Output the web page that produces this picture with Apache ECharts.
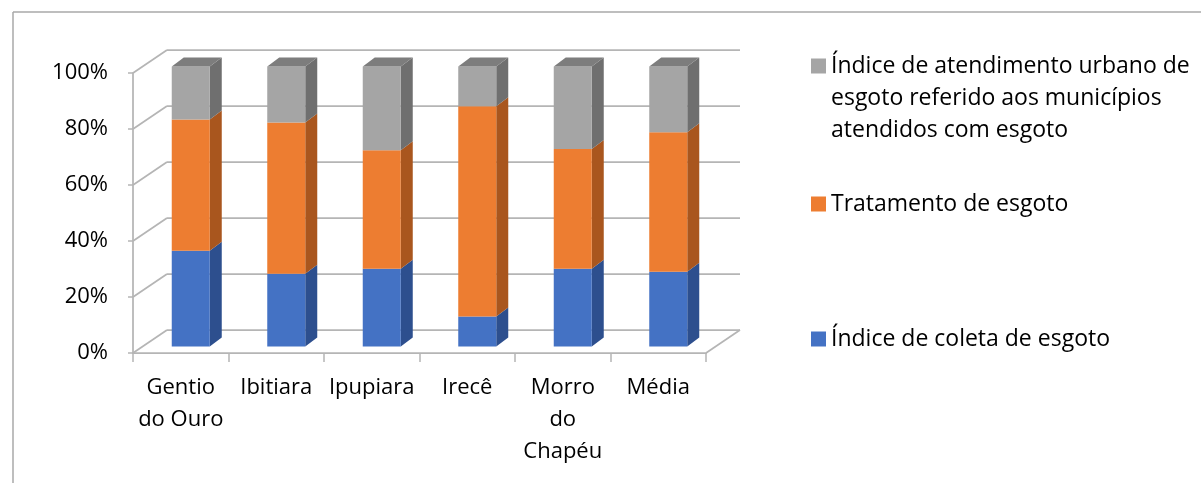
<!DOCTYPE html>
<html>
<head>
<meta charset="utf-8">
<script src="https://cdn.jsdelivr.net/npm/echarts@6/dist/echarts.min.js"></script>
<style>
  html, body { margin: 0; padding: 0; background: #fff; }
  #chart { width: 1201px; height: 483px; }
</style>
</head>
<body>
<div id="chart"></div>
<script>
// ---- data (shares of each bar, %) ----
const categories = ["Gentio\ndo Ouro", "Ibitiara", "Ipupiara", "Irecê", "Morro\ndo\nChapéu", "Média"];
const coleta     = [34.2, 26.0, 27.8, 10.7, 27.8, 26.7];
const tratamento = [46.9, 54.0, 42.3, 75.1, 42.7, 49.8];
const atendimento = [18.9, 20.0, 29.9, 14.2, 29.5, 23.5];
const yTicks = [0, 20, 40, 60, 80, 100];

const NAME_COLETA = "Índice de coleta de esgoto";
const NAME_TRAT = "Tratamento de esgoto";
const NAME_ATEND = "Índice de atendimento urbano de esgoto referido aos municípios atendidos com esgoto";

const FONT = "Open Sans";
const GRID_LINE = "#b5b5b5";

// pseudo-3D offsets
const WALL_DX = 34, WALL_DY = -23;   // depth of the chart box
const BAR_DX = 10, BAR_DY = -6.5;    // bar front face sits inside the box
const BAR_W = 38;
const SIDE_DX = 12, SIDE_DY = -9;    // bar depth

// stack the three segments
function stackRows(values, bases) {
  return values.map((v, i) => [i, bases[i], bases[i] + v]);
}
const base0 = coleta.map(() => 0);
const base1 = coleta.slice();
const base2 = coleta.map((v, i) => v + tratamento[i]);

function barRenderer(front, side, top, withTop) {
  return function (params, api) {
    const i = api.value(0);
    const p0 = api.coord([i, api.value(1)]);
    const p1 = api.coord([i, api.value(2)]);
    const xl = p0[0] + BAR_DX - BAR_W / 2;
    const xr = xl + BAR_W;
    const yb = p0[1] + BAR_DY;
    const yt = p1[1] + BAR_DY;
    const children = [
      {
        type: "polygon",
        shape: { points: [[xr, yt], [xr, yb], [xr + SIDE_DX, yb + SIDE_DY], [xr + SIDE_DX, yt + SIDE_DY]] },
        style: { fill: side }
      },
      {
        type: "rect",
        shape: { x: xl, y: yt, width: BAR_W, height: yb - yt },
        style: { fill: front }
      }
    ];
    if (withTop) {
      children.push({
        type: "polygon",
        shape: { points: [[xl, yt], [xr, yt], [xr + SIDE_DX, yt + SIDE_DY], [xl + SIDE_DX, yt + SIDE_DY]] },
        style: { fill: top }
      });
    }
    return { type: "group", children };
  };
}

function barSeries(name, rows, front, side, top, withTop) {
  return {
    name,
    type: "custom",
    xAxisIndex: 0,
    yAxisIndex: 0,
    itemStyle: { color: front },
    encode: { x: 0, y: [1, 2] },
    data: rows,
    z: 5,
    renderItem: barRenderer(front, side, top, withTop)
  };
}

const chart = echarts.init(document.getElementById("chart"), null, { renderer: "canvas" });

const legendText = { fontFamily: FONT, fontSize: 23, color: "#000", lineHeight: 32 };

chart.setOption({
  animation: false,
  textStyle: { fontFamily: FONT },
  grid: [
    { left: 133, top: 73, width: 573, height: 280 },                       // front plane
    { left: 133 + WALL_DX, top: 73 + WALL_DY, width: 573, height: 280 }    // back wall
  ],
  xAxis: [
    {
      type: "category",
      gridIndex: 0,
      data: categories,
      axisLine: { lineStyle: { color: GRID_LINE, width: 1.75 } },
      axisTick: { show: true, length: 9, lineStyle: { color: GRID_LINE, width: 1.5 } },
      axisLabel: { color: "#000", fontSize: 22, fontFamily: FONT, lineHeight: 32, margin: 19, interval: 0 },
      splitLine: { show: false }
    },
    { type: "category", gridIndex: 1, data: categories, show: false }
  ],
  yAxis: [
    {
      type: "value",
      gridIndex: 0,
      min: 0, max: 100, interval: 20,
      axisLine: { show: true, lineStyle: { color: GRID_LINE, width: 1.75 } },
      axisTick: { show: true, length: 5, lineStyle: { color: GRID_LINE, width: 1.5 } },
      axisLabel: { color: "#000", fontSize: 22, fontFamily: FONT, margin: 25, formatter: "{value}%" },
      splitLine: { show: false }
    },
    {
      type: "value",
      gridIndex: 1,
      min: 0, max: 100, interval: 20,
      axisLine: { show: false },
      axisTick: { show: false },
      axisLabel: { show: false },
      splitLine: { show: true, lineStyle: { color: GRID_LINE, width: 1.75 } }
    }
  ],
  legend: [
    {
      // two leading blank lines keep the marker beside the first text line
      data: [NAME_ATEND], left: 806, bottom: 332, orient: "vertical",
      icon: "rect", itemWidth: 15, itemHeight: 15,
      formatter: () => "\n\nÍndice de atendimento urbano de\nesgoto referido aos municípios\natendidos com esgoto",
      textStyle: legendText
    },
    {
      data: [NAME_TRAT], left: 806, top: 183,
      icon: "rect", itemWidth: 15, itemHeight: 15, textStyle: legendText
    },
    {
      data: [NAME_COLETA], left: 806, top: 318,
      icon: "rect", itemWidth: 15, itemHeight: 15, textStyle: legendText
    }
  ],
  graphic: [
    { type: "line", shape: { x1: 13, y1: 12, x2: 1201, y2: 12 }, style: { stroke: "#a8a8a8", lineWidth: 1.5 } },
    { type: "line", shape: { x1: 13, y1: 12, x2: 13, y2: 483 }, style: { stroke: "#a8a8a8", lineWidth: 1.5 } }
  ],
  series: [
    // side wall / floor edges joining the front plane to the back wall
    {
      type: "custom",
      xAxisIndex: 0,
      yAxisIndex: 0,
      silent: true,
      z: 1,
      data: yTicks.map((v) => [0, v]),
      encode: { x: 0, y: 1 },
      renderItem: function (params, api) {
        const cs = params.coordSys;
        const y = api.coord([0, api.value(1)])[1];
        const style = { stroke: GRID_LINE, lineWidth: 1.75 };
        const children = [
          { type: "line", shape: { x1: cs.x, y1: y, x2: cs.x + WALL_DX, y2: y + WALL_DY }, style }
        ];
        if (api.value(1) === 0) {
          const xr = cs.x + cs.width;
          children.push({ type: "line", shape: { x1: xr, y1: y, x2: xr + WALL_DX, y2: y + WALL_DY }, style });
        }
        return { type: "group", children };
      }
    },
    barSeries(NAME_COLETA, stackRows(coleta, base0), "#4472c4", "#2d4f8e", "#3a62a8", false),
    barSeries(NAME_TRAT, stackRows(tratamento, base1), "#ed7d31", "#a9561e", "#c96a28", false),
    barSeries(NAME_ATEND, stackRows(atendimento, base2), "#a5a5a5", "#6f6f6f", "#7d7d7d", true)
  ]
});
</script>
</body>
</html>
